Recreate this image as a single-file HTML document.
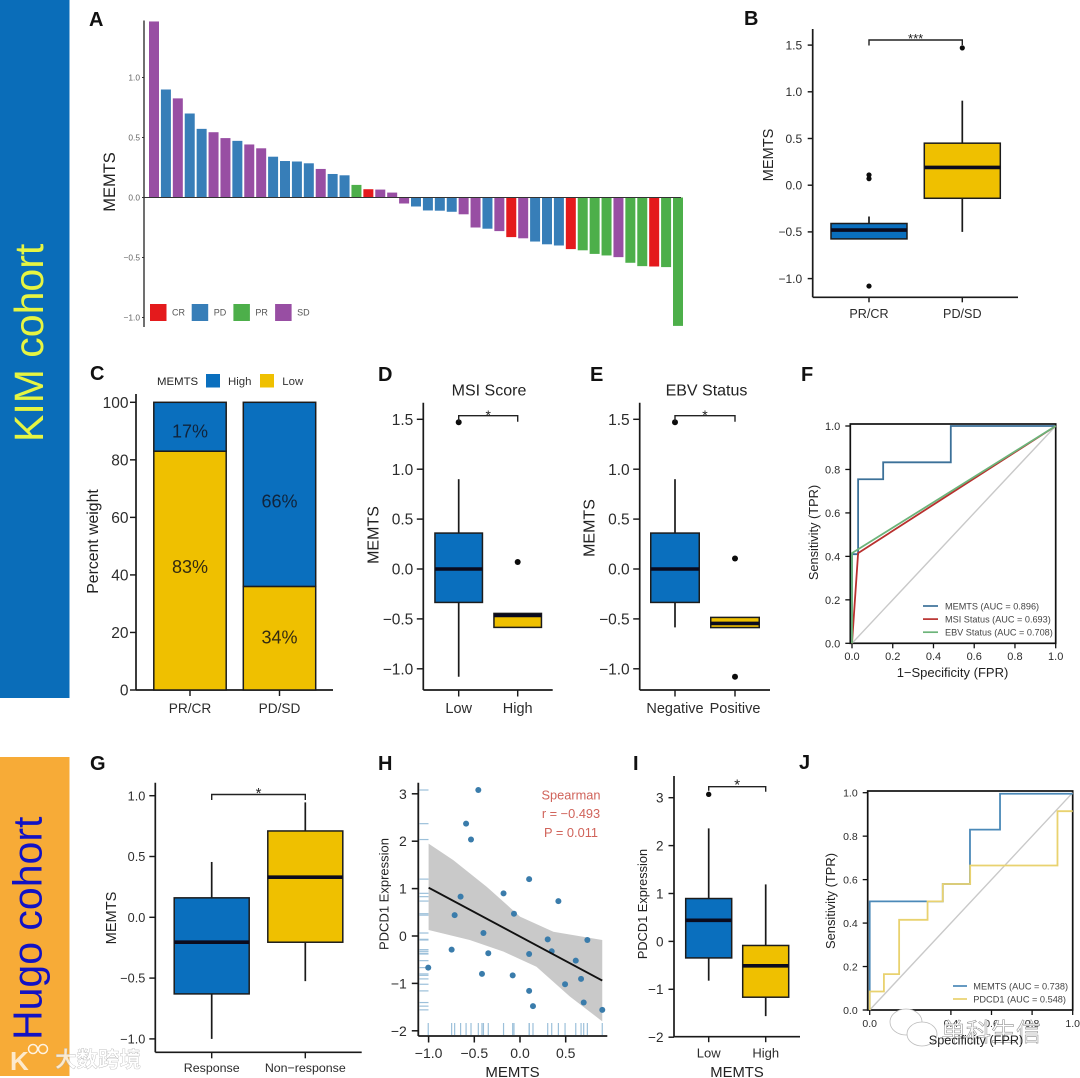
<!DOCTYPE html>
<html lang="en">
<head>
<meta charset="utf-8">
<title>MEMTS cohort analysis figure</title>
<style>
html,body{margin:0;padding:0;background:#fff;width:1080px;height:1078px;overflow:hidden}
svg{display:block;font-family:"Liberation Sans","Noto Sans CJK SC",sans-serif;filter:blur(.35px)}
</style>
</head>
<body>
<svg id="fig" xmlns="http://www.w3.org/2000/svg" width="1080" height="1078" viewBox="0 0 1080 1078">
  <rect width="1080" height="1078" fill="#fff"/>
  <rect x="0" y="0" width="69.5" height="698" fill="#0a6db9"/>
  <text transform="translate(43,442) rotate(-90)" font-size="41" fill="#e6f542">KIM cohort</text>
  <rect x="0" y="757" width="69.5" height="319" fill="#f7ab37"/>
  <text transform="translate(41.5,1040) rotate(-90)" font-size="41" fill="#1212c4">Hugo cohort</text>

  <g font-weight="bold" font-size="20" fill="#111">
    <text x="89" y="26">A</text>
    <text x="744" y="25">B</text>
    <text x="90" y="380">C</text>
    <text x="378" y="381">D</text>
    <text x="590" y="381">E</text>
    <text x="801" y="381">F</text>
    <text x="90" y="770">G</text>
    <text x="378" y="770">H</text>
    <text x="633" y="770">I</text>
    <text x="799" y="769">J</text>
  </g>

  <g id="panel-a">
    <text transform="translate(115,182) rotate(-90)" font-size="16.5" text-anchor="middle" fill="#222">MEMTS</text>
  </g>
  <g id="panel-b">
    <text transform="translate(773,155) rotate(-90)" font-size="14.6" text-anchor="middle" fill="#222">MEMTS</text>
  </g>
  <g id="panel-c">
    <text transform="translate(98,541.5) rotate(-90)" font-size="15.8" text-anchor="middle" fill="#222">Percent weight</text>
    <text x="157" y="385" font-size="11.4" fill="#222">MEMTS</text>
  </g>
  <g id="panel-d">
    <text x="489" y="395.5" font-size="16" text-anchor="middle" fill="#222">MSI Score</text>
    <text transform="translate(378.5,535) rotate(-90)" font-size="16" text-anchor="middle" fill="#222">MEMTS</text>
  </g>
  <g id="panel-e">
    <text x="706.5" y="395.5" font-size="16" text-anchor="middle" fill="#222">EBV Status</text>
    <text transform="translate(594.5,528) rotate(-90)" font-size="16" text-anchor="middle" fill="#222">MEMTS</text>
  </g>
  <g id="panel-f">
    <text transform="translate(818,532.5) rotate(-90)" font-size="12.8" text-anchor="middle" fill="#222">Sensitivity (TPR)</text>
    <text x="952.5" y="677" font-size="13" text-anchor="middle" fill="#222">1−Specificity (FPR)</text>
  </g>
  <g id="panel-g">
    <text transform="translate(116,918) rotate(-90)" font-size="14.6" text-anchor="middle" fill="#222">MEMTS</text>
  </g>
  <g id="panel-h">
    <text transform="translate(388.5,894) rotate(-90)" font-size="13" text-anchor="middle" fill="#222">PDCD1 Expression</text>
    <text x="512.5" y="1077" font-size="15" text-anchor="middle" fill="#222">MEMTS</text>
  </g>
  <g id="panel-i">
    <text transform="translate(647,904) rotate(-90)" font-size="12.8" text-anchor="middle" fill="#222">PDCD1 Expression</text>
    <text x="737" y="1077" font-size="14.8" text-anchor="middle" fill="#222">MEMTS</text>
  </g>
  <g id="panel-j">
    <text transform="translate(835,901) rotate(-90)" font-size="12.9" text-anchor="middle" fill="#222">Sensitivity (TPR)</text>
    <text id="j-x-title" x="976" y="1044.5" font-size="12.7" text-anchor="middle" fill="#222">Specificity (FPR)</text>
  </g>

  <g id="watermark-wechat">
    <ellipse cx="906" cy="1022" rx="16" ry="13" fill="#fff" stroke="#bbb" stroke-width=".8"/>
    <ellipse cx="922" cy="1034" rx="15" ry="12" fill="#fff" stroke="#bbb" stroke-width=".8"/>
    <text x="941" y="1041" font-size="25" fill="#fff" stroke="#8d8d8d" stroke-width=".55">单科生信</text>
  </g>
  <g>
    <text x="10" y="1070" font-size="26" font-weight="bold" fill="#fff" fill-opacity=".75">K</text>
    <circle cx="33" cy="1049" r="4.5" fill="none" stroke="#fff" stroke-opacity=".85" stroke-width="1.5"/>
    <circle cx="43" cy="1049" r="4.5" fill="none" stroke="#fff" stroke-opacity=".85" stroke-width="1.5"/>
    <text x="55" y="1067" font-size="21.5" font-weight="bold" fill="#fff" fill-opacity=".75" stroke="#aaa" stroke-width=".3">大数跨境</text>
  </g>
</svg>

<script>
// ---------- Panel A ----------
const aValues = [1.467,0.90,0.826,0.70,0.572,0.544,0.495,0.472,0.442,0.41,0.34,0.304,0.30,0.285,0.238,0.196,0.185,0.105,0.069,0.066,0.041,-0.05,-0.075,-0.108,-0.11,-0.119,-0.14,-0.25,-0.26,-0.28,-0.33,-0.34,-0.367,-0.39,-0.40,-0.43,-0.44,-0.47,-0.483,-0.497,-0.544,-0.572,-0.575,-0.58,-1.07];
const aResponse = ['SD','PD','SD','PD','PD','SD','SD','PD','SD','SD','PD','PD','PD','PD','SD','PD','PD','PR','CR','SD','SD','SD','PD','PD','PD','PD','SD','SD','PD','SD','CR','SD','PD','PD','PD','CR','PR','PR','PR','SD','PR','PR','CR','PR','PR'];
const aCategories = ['CR','PD','PR','SD'];
const aTicks = [-1,-0.5,0,0.5,1];
// ---------- Panel B ----------
const bGroups = ['PR/CR','PD/SD'];
const bQ1 = [-0.575,-0.14];
const bMedian = [-0.48,0.19];
const bQ3 = [-0.41,0.45];
const bWhiskerLow = [-0.575,-0.5];
const bWhiskerHigh = [-0.335,0.905];
const bOutliers = [[0.11,0.07,-1.08],[1.47]];
const bTicks = [-1,-0.5,0,0.5,1,1.5];
// ---------- Panel C ----------
const cGroups = ['PR/CR','PD/SD'];
const cLow = [83,36];
const cHigh = [17,64];
const cHighLabels = ['17%','66%'];
const cLowLabels = ['83%','34%'];
const cHighLabelAt = [90,65.7];
const cLowLabelAt = [43,18.4];
const cTicks = [0,20,40,60,80,100];
// ---------- Panel D ----------
const dGroups = ['Low','High'];
const dQ1 = [-0.335,-0.585];
const dMedian = [0,-0.465];
const dQ3 = [0.36,-0.445];
const dWhiskerLow = [-1.08,-0.585];
const dWhiskerHigh = [0.9,-0.445];
const dOutliers = [[1.47],[0.07]];
const dTicks = [-1,-0.5,0,0.5,1,1.5];
// ---------- Panel E ----------
const eGroups = ['Negative','Positive'];
const eQ1 = [-0.335,-0.587];
const eMedian = [0,-0.545];
const eQ3 = [0.36,-0.485];
const eWhiskerLow = [-0.585,-0.587];
const eWhiskerHigh = [0.9,-0.485];
const eOutliers = [[1.47],[0.105,-1.08]];
const eTicks = [-1,-0.5,0,0.5,1,1.5];
// ---------- Panel F ----------
const rocTicks = [0,0.2,0.4,0.6,0.8,1];
const fMemtsFpr = [0,0,0.03,0.03,0.153,0.153,0.485,0.485,1];
const fMemtsTpr = [0,0.41,0.41,0.755,0.755,0.833,0.833,1,1];
const fMsiFpr = [0,0.03,1];
const fMsiTpr = [0,0.415,1];
const fEbvFpr = [0,0,1];
const fEbvTpr = [0,0.415,1];
const fLegend = ['MEMTS (AUC = 0.896)','MSI Status (AUC = 0.693)','EBV Status (AUC = 0.708)'];
// ---------- Panel G ----------
const gGroups = ['Response','Non−response'];
const gQ1 = [-0.63,-0.205];
const gMedian = [-0.205,0.33];
const gQ3 = [0.16,0.71];
const gWhiskerLow = [-1.0,-0.525];
const gWhiskerHigh = [0.455,0.945];
const gOutliers = [[],[]];
const gTicks = [-1,-0.5,0,0.5,1];
// ---------- Panel H ----------
const hMemts = [-0.456,-0.59,-0.536,0.10,-0.18,0.42,-0.65,-0.715,-0.066,-0.40,-0.748,0.303,0.737,-0.347,0.10,0.347,0.61,-1.004,-0.416,-0.08,0.493,0.668,0.10,0.142,0.697,0.90];
const hPdcd1 = [3.08,2.37,2.035,1.2,0.90,0.737,0.83,0.44,0.47,0.063,-0.288,-0.07,-0.084,-0.365,-0.38,-0.323,-0.52,-0.667,-0.80,-0.83,-1.018,-0.905,-1.158,-1.48,-1.404,-1.558];
const hFitX = [-1.0,0.9];
const hFitY = [1.02,-0.94];
const hBandX = [-1.0,-0.73,-0.365,0,0.365,0.9];
const hBandUpper = [1.95,1.6,1.04,0.41,0.09,-0.085];
const hBandLowerX = [-1.0,-0.55,-0.18,0.18,0.547,0.9];
const hBandLower = [0.126,-0.084,-0.33,-0.65,-1.28,-1.8];
const hTicksX = [-1,-0.5,0,0.5];
const hTicksY = [-2,-1,0,1,2,3];
// ---------- Panel I ----------
const iGroups = ['Low','High'];
const iQ1 = [-0.345,-1.165];
const iMedian = [0.44,-0.51];
const iQ3 = [0.895,-0.085];
const iWhiskerLow = [-0.82,-1.56];
const iWhiskerHigh = [2.36,1.19];
const iOutliers = [[3.07],[]];
const iTicks = [-2,-1,0,1,2,3];
// ---------- Panel J ----------
const jMemtsFpr = [0,0,0.36,0.36,0.494,0.494,0.642,0.642,1];
const jMemtsTpr = [0,0.5,0.5,0.58,0.58,0.83,0.83,0.995,0.995];
const jPdcd1Fpr = [0,0,0.07,0.07,0.145,0.145,0.285,0.285,0.36,0.36,0.495,0.495,0.925,0.925,1];
const jPdcd1Tpr = [0,0.085,0.085,0.165,0.165,0.415,0.415,0.5,0.5,0.58,0.58,0.665,0.665,0.915,0.915];
const jLegend = ['MEMTS (AUC = 0.738)','PDCD1 (AUC = 0.548)'];

const NS = 'http://www.w3.org/2000/svg';
const BLUE = '#0a6fbe', YELLOW = '#efc000', INK = '#1a1a1a', TICKTXT = '#2c2c2c';
const aColors = {CR:'#e41a1c',PD:'#377eb8',PR:'#4daf4a',SD:'#984ea3'};

function el(parent, tag, attrs, text) {
  const n = document.createElementNS(NS, tag);
  for (const k in attrs) n.setAttribute(k, attrs[k]);
  if (text !== undefined) n.textContent = text;
  parent.appendChild(n);
  return n;
}
function label(parent, x, y, s, size, anchor, fill) {
  return el(parent, 'text', {x: x, y: y + size * 0.36, 'font-size': size, 'text-anchor': anchor, fill: fill}, s);
}
function fmt1(v) { return v.toFixed(1).replace('-', '\u2212'); }
function fmt0(v) { return String(v).replace('-', '\u2212'); }

function drawAxes(g, c) {
  const yLine = el(g, 'line', {x1: c.x0, x2: c.x0, y1: c.yTop, y2: c.yBottom, stroke: INK, 'stroke-width': c.lw});
  
  
  const xLine = el(g, 'line', {x1: c.x0, x2: c.xRight, y1: c.yBottom, y2: c.yBottom, stroke: INK, 'stroke-width': c.lw});
  
  
  c.yTicks.forEach(function (v) {
    const py = c.y(v);
    const t = el(g, 'line', {x1: c.x0 - c.tick, x2: c.x0, y1: py, y2: py, stroke: INK, 'stroke-width': c.lw * 0.85});
    
    
    const l = label(g, c.x0 - c.tick - c.gap, py, c.yFmt(v), c.yFont, 'end', TICKTXT);
    
    
  });
  c.xTicks.forEach(function (v, i) {
    const px = c.x(v, i);
    const t = el(g, 'line', {x1: px, x2: px, y1: c.yBottom, y2: c.yBottom + c.tick, stroke: INK, 'stroke-width': c.lw * 0.85});
    
    
    const l = label(g, px, c.xLabelY, c.xLabels[i], c.xFont, 'middle', TICKTXT);
    
    
  });
}

function drawBoxes(g, c) {
  c.groups.forEach(function (name, i) {
    const cx = c.x(name, i), w = c.boxW, fill = i === 0 ? BLUE : YELLOW;
    const wh = el(g, 'line', {x1: cx, x2: cx, y1: c.y(c.whiskerHigh[i]), y2: c.y(c.q3[i]), stroke: INK, 'stroke-width': 1.7});
    
    
    const wl = el(g, 'line', {x1: cx, x2: cx, y1: c.y(c.q1[i]), y2: c.y(c.whiskerLow[i]), stroke: INK, 'stroke-width': 1.7});
    
    
    const b = el(g, 'rect', {x: cx - w / 2, y: c.y(c.q3[i]), width: w, height: c.y(c.q1[i]) - c.y(c.q3[i]), fill: fill, stroke: '#1c1c1c', 'stroke-width': 1.5});
    
    
    const m = el(g, 'line', {x1: cx - w / 2, x2: cx + w / 2, y1: c.y(c.median[i]), y2: c.y(c.median[i]), stroke: '#0b0b1e', 'stroke-width': 3.6});
    
    
    c.outliers[i].forEach(function (v) {
      const o = el(g, 'circle', {cx: cx, cy: c.y(v), r: c.r, fill: '#0c0c0c'});
      
      
    });
  });
}

function drawBracket(g, x1, x2, y, drop1, drop2, stars, starY, size) {
  const p = el(g, 'path', {d: 'M' + x1 + ' ' + (y + drop1) + 'V' + y + 'H' + x2 + 'V' + (y + drop2), fill: 'none', stroke: '#222', 'stroke-width': 1.4});
  
  
  const t = el(g, 'text', {x: (x1 + x2) / 2, y: starY, 'font-size': size, 'text-anchor': 'middle', fill: '#222'}, stars);
  
  
}

function polyPoints(xs, ys, fx, fy) {
  return xs.map(function (v, i) { return fx(v) + ',' + fy(ys[i]); }).join(' ');
}

function boxPanel(id, c) {
  const g = document.getElementById(id);
  const xFn = function (name, i) { return c.centers0 + i * c.step; };
  drawAxes(g, {x0: c.x0, yTop: c.yTop, yBottom: c.yBottom, xRight: c.xRight, lw: 1.7, tick: c.tick, gap: c.gap,
    y: c.y, yTicks: c.yTicks, yFmt: c.yFmt, yFont: c.yFont, x: xFn, xTicks: c.groups, xLabels: c.groups, xLabelY: c.xLabelY, xFont: c.xFont});
  drawBoxes(g, {groups: c.groups, x: xFn, y: c.y, boxW: c.boxW, q1: c.q1, q3: c.q3, median: c.median, whiskerLow: c.low, whiskerHigh: c.high, outliers: c.outliers, r: c.r});
  drawBracket(g, xFn('', 0), xFn('', 1), c.brY, c.brD1, c.brD2, c.stars, c.starY, c.starSize);
}

// ===== Panel A =====
(function () {
  const g = document.getElementById('panel-a');
  const y = function (v) { return 197.5 - 120 * v; };
  const x = function (i) { return 154 + i * (678 - 154) / (aValues.length - 1); };
  aValues.forEach(function (v, i) {
    const top = Math.min(y(0), y(v));
    const bar = el(g, 'rect', {x: x(i) - 5, y: top, width: 10, height: Math.abs(y(v) - y(0)), fill: aColors[aResponse[i]]});
    
    
  });
  const axisY = el(g, 'line', {x1: 144, x2: 144, y1: 20.5, y2: 327, stroke: '#333', 'stroke-width': 1.4});
  
  
  const zero = el(g, 'line', {x1: 144, x2: 681, y1: y(0), y2: y(0), stroke: '#333', 'stroke-width': 1.1});
  
  
  aTicks.forEach(function (v) {
    const t = el(g, 'line', {x1: 142, x2: 144, y1: y(v), y2: y(v), stroke: '#333', 'stroke-width': 1});
    
    
    const l = label(g, 140, y(v), fmt1(v), 8.4, 'end', '#666');
    
    
  });
  aCategories.forEach(function (name, i) {
    const lx = 150 + i * 41.7;
    const s = el(g, 'rect', {x: lx, y: 304, width: 16.5, height: 17, fill: aColors[name]});
    
    
    const l = label(g, lx + 22, 312.5, name, 9, 'start', '#555');
    
    
  });
})();

// ===== Panel B =====
boxPanel('panel-b', {x0: 812.7, yTop: 29, yBottom: 297.3, xRight: 1018, tick: 5, gap: 5.5,
  y: function (v) { return 185.2 - 93.4 * v; }, yTicks: bTicks, yFmt: fmt1, yFont: 12, groups: bGroups,
  centers0: 869, step: 93.3, xLabelY: 313.3, xFont: 12.6, boxW: 76,
  q1: bQ1, q3: bQ3, median: bMedian, low: bWhiskerLow, high: bWhiskerHigh, outliers: bOutliers, r: 2.6,
  brY: 40, brD1: 5.5, brD2: 5, stars: '***', starY: 43, starSize: 13});

// ===== Panel C =====
(function () {
  const g = document.getElementById('panel-c');
  const y = function (v) { return 690 - 2.877 * v; };
  const x = function (name, i) { return 190 + i * 89.5; };
  drawAxes(g, {x0: 136, yTop: 394, yBottom: 690, xRight: 333, lw: 1.7, tick: 6, gap: 1.5,
    y: y, yTicks: cTicks, yFmt: fmt0, yFont: 15.5, x: x, xTicks: cGroups, xLabels: cGroups, xLabelY: 708, xFont: 13.7});
  cGroups.forEach(function (name, i) {
    const cx = x(name, i);
    const low = el(g, 'rect', {x: cx - 36.2, y: y(cLow[i]), width: 72.4, height: y(0) - y(cLow[i]), fill: YELLOW, stroke: '#1c1c1c', 'stroke-width': 1.5});
    
    
    const high = el(g, 'rect', {x: cx - 36.2, y: y(cLow[i] + cHigh[i]), width: 72.4, height: y(cLow[i]) - y(cLow[i] + cHigh[i]), fill: BLUE, stroke: '#1c1c1c', 'stroke-width': 1.5});
    
    
    const hl = label(g, cx, y(cHighLabelAt[i]), cHighLabels[i], 18, 'middle', '#10243c');
    
    
    const ll = label(g, cx, y(cLowLabelAt[i]), cLowLabels[i], 18, 'middle', '#332a10');
    
    
  });
  const s1 = el(g, 'rect', {x: 206, y: 374, width: 14, height: 13.5, fill: BLUE});
  
  
  const l1 = label(g, 228, 381, 'High', 11.4, 'start', '#333');
  
  
  const s2 = el(g, 'rect', {x: 260, y: 374, width: 14, height: 13.5, fill: YELLOW});
  
  
  const l2 = label(g, 282.3, 381, 'Low', 11.4, 'start', '#333');
  
  
})();

// ===== Panels D, E =====
boxPanel('panel-d', {x0: 423.3, yTop: 402.7, yBottom: 690, xRight: 552.7, tick: 6.5, gap: 3.5,
  y: function (v) { return 569 - 99.8 * v; }, yTicks: dTicks, yFmt: fmt1, yFont: 15.5, groups: dGroups,
  centers0: 458.7, step: 59, xLabelY: 707.7, xFont: 14.5, boxW: 47.5,
  q1: dQ1, q3: dQ3, median: dMedian, low: dWhiskerLow, high: dWhiskerHigh, outliers: dOutliers, r: 3,
  brY: 415.7, brD1: 5.5, brD2: 6, stars: '*', starY: 420, starSize: 14});
boxPanel('panel-e', {x0: 639.7, yTop: 402.7, yBottom: 690, xRight: 770, tick: 6.5, gap: 3.5,
  y: function (v) { return 569 - 99.8 * v; }, yTicks: eTicks, yFmt: fmt1, yFont: 15.5, groups: eGroups,
  centers0: 675, step: 60, xLabelY: 707.7, xFont: 14.5, boxW: 48.5,
  q1: eQ1, q3: eQ3, median: eMedian, low: eWhiskerLow, high: eWhiskerHigh, outliers: eOutliers, r: 3,
  brY: 415.7, brD1: 5.5, brD2: 6, stars: '*', starY: 420, starSize: 14});

// ===== ROC helper =====
function rocFrame(g, c) {
  const frame = el(g, 'rect', {x: c.left, y: c.top, width: c.right - c.left, height: c.bottom - c.top, fill: 'none', stroke: '#111', 'stroke-width': 1.7});
  
  
  rocTicks.forEach(function (v) {
    const ty = el(g, 'line', {x1: c.left - 5, x2: c.left, y1: c.y(v), y2: c.y(v), stroke: '#111', 'stroke-width': 1.3});
    
    
    const ly = label(g, c.left - 10, c.y(v), v.toFixed(1), c.font, 'end', TICKTXT);
    
    
    const tx = el(g, 'line', {x1: c.x(v), x2: c.x(v), y1: c.bottom, y2: c.bottom + 5, stroke: '#111', 'stroke-width': 1.3});
    
    
    const lx = label(g, c.x(v), c.xLabelY, v.toFixed(1), c.font, 'middle', TICKTXT);
    
    
  });
  const d = el(g, 'line', {x1: c.x(0), y1: c.y(0), x2: c.x(1), y2: c.y(1), stroke: '#c9c9c9', 'stroke-width': 1.4});
  
  
}

// ===== Panel F =====
(function () {
  const g = document.getElementById('panel-f');
  const x = function (v) { return 852 + 203.7 * v; };
  const y = function (v) { return 643.3 - 217.3 * v; };
  rocFrame(g, {left: 850.3, right: 1055.7, top: 424, bottom: 643.3, x: x, y: y, font: 11, xLabelY: 656});
  const series = [
    {name: 'memts', fpr: fMemtsFpr, tpr: fMemtsTpr, color: '#3c7199'},
    {name: 'msi', fpr: fMsiFpr, tpr: fMsiTpr, color: '#b8302e'},
    {name: 'ebv', fpr: fEbvFpr, tpr: fEbvTpr, color: '#6cb47a'}
  ];
  series.forEach(function (s, i) {
    const p = el(g, 'polyline', {points: polyPoints(s.fpr, s.tpr, x, y), fill: 'none', stroke: s.color, 'stroke-width': 1.8});
    
    
    const ly = 606 + i * 13.1;
    const k = el(g, 'line', {x1: 923, x2: 938, y1: ly, y2: ly, stroke: s.color, 'stroke-width': 1.7});
    
    
    const t = label(g, 945, ly, fLegend[i], 9.15, 'start', '#444');
    
    
  });
})();

// ===== Panel G =====
boxPanel('panel-g', {x0: 155.3, yTop: 782.7, yBottom: 1052.3, xRight: 361.7, tick: 6, gap: 4,
  y: function (v) { return 917.3 - 121.6 * v; }, yTicks: gTicks, yFmt: fmt1, yFont: 12.7, groups: gGroups,
  centers0: 211.7, step: 93.6, xLabelY: 1067.7, xFont: 12.4, boxW: 75,
  q1: gQ1, q3: gQ3, median: gMedian, low: gWhiskerLow, high: gWhiskerHigh, outliers: gOutliers, r: 3,
  brY: 794.5, brD1: 5.5, brD2: 5.5, stars: '*', starY: 798, starSize: 15});

// ===== Panel H =====
(function () {
  const g = document.getElementById('panel-h');
  const x = function (v) { return 520 + 91.4 * v; };
  const y = function (v) { return 936 - 47.4 * v; };
  const upper = polyPoints(hBandX, hBandUpper, x, y);
  const lower = polyPoints(hBandLowerX.slice().reverse(), hBandLower.slice().reverse(), x, y);
  const band = el(g, 'polygon', {points: upper + ' ' + lower, fill: '#c9c9c9'});
  
  
  hMemts.forEach(function (v, i) {
    const r1 = el(g, 'line', {x1: x(v), x2: x(v), y1: 1023, y2: 1035, stroke: '#9cc0da', 'stroke-width': 1.2});
    
    
    const r2 = el(g, 'line', {x1: 419.5, x2: 428.5, y1: y(hPdcd1[i]), y2: y(hPdcd1[i]), stroke: '#9cc0da', 'stroke-width': 1.2});
    
    
  });
  drawAxes(g, {x0: 418.3, yTop: 782.7, yBottom: 1036, xRight: 607.3, lw: 1.8, tick: 6.5, gap: 5,
    y: y, yTicks: hTicksY, yFmt: fmt0, yFont: 14, x: function (v) { return x(v); }, xTicks: hTicksX, xLabels: hTicksX.map(fmt1), xLabelY: 1053, xFont: 14});
  hMemts.forEach(function (v, i) {
    const d = el(g, 'circle', {cx: x(v), cy: y(hPdcd1[i]), r: 3, fill: '#3a7cab'});
    
    
  });
  const fit = el(g, 'polyline', {points: polyPoints(hFitX, hFitY, x, y), fill: 'none', stroke: '#111', 'stroke-width': 1.9});
  
  
  const a1 = label(g, 571, 795, 'Spearman', 12.8, 'middle', '#d0635a');
  
  
  const a2 = label(g, 571, 813.5, 'r = \u22120.493', 12.8, 'middle', '#d0635a');
  
  
  const a3 = label(g, 571, 832.5, 'P = 0.011', 12.8, 'middle', '#d0635a');
  
  
})();

// ===== Panel I =====
boxPanel('panel-i', {x0: 674, yTop: 776, yBottom: 1036.7, xRight: 800, tick: 5.5, gap: 5,
  y: function (v) { return 941.4 - 47.9 * v; }, yTicks: iTicks, yFmt: fmt0, yFont: 13.5, groups: iGroups,
  centers0: 708.7, step: 57, xLabelY: 1052.7, xFont: 13, boxW: 46,
  q1: iQ1, q3: iQ3, median: iMedian, low: iWhiskerLow, high: iWhiskerHigh, outliers: iOutliers, r: 2.7,
  brY: 786.7, brD1: 4, brD2: 5, stars: '*', starY: 789.5, starSize: 15});

// ===== Panel J =====
(function () {
  const g = document.getElementById('panel-j');
  const x = function (v) { return 869.7 + 203 * v; };
  const y = function (v) { return 1010 - 217.3 * v; };
  rocFrame(g, {left: 867.7, right: 1072.7, top: 791, bottom: 1010, x: x, y: y, font: 10.5, xLabelY: 1023});
  const series = [
    {name: 'memts', fpr: jMemtsFpr, tpr: jMemtsTpr, color: '#4b89b8'},
    {name: 'pdcd1', fpr: jPdcd1Fpr, tpr: jPdcd1Tpr, color: '#e9d26f'}
  ];
  series.forEach(function (s, i) {
    const p = el(g, 'polyline', {points: polyPoints(s.fpr, s.tpr, x, y), fill: 'none', stroke: s.color, 'stroke-width': 1.8});
    
    
    const ly = 986 + i * 13;
    const k = el(g, 'line', {x1: 953, x2: 967, y1: ly, y2: ly, stroke: s.color, 'stroke-width': 1.7});
    
    
    const t = label(g, 973.3, ly, jLegend[i], 9.2, 'start', '#444');
    
    
  });
})();
document.getElementById('fig').appendChild(document.getElementById('watermark-wechat'));
document.getElementById('fig').appendChild(document.getElementById('j-x-title'));
</script>
</body>
</html>
